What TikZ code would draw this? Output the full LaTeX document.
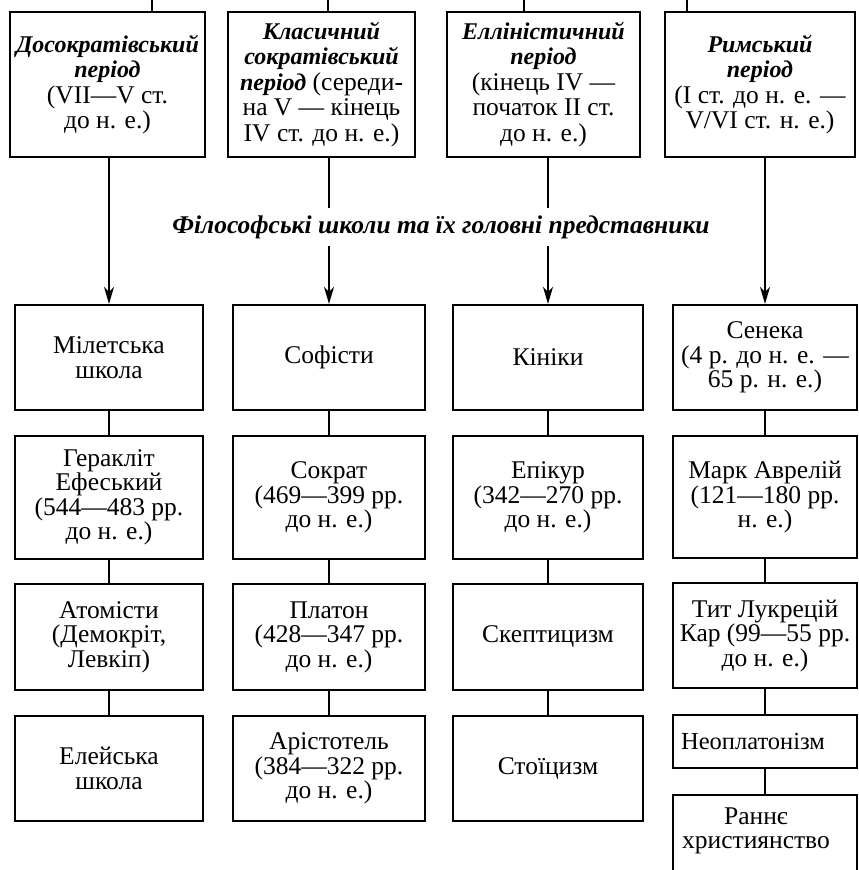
\documentclass[tikz,border=0pt]{standalone}
\usepackage{fontspec}
\setmainfont{Liberation Serif}
\usetikzlibrary{arrows.meta}
\newcommand\bi[1]{{\fontsize{24}{25.5}\selectfont\bfseries\itshape #1}}
\begin{document}
\begin{tikzpicture}[x=1pt,y=-1pt,
  box/.style={draw, line width=2.2pt, inner sep=0pt, align=center, font=\fontsize{25.5}{24.5}\selectfont},
  pbox/.style={draw, line width=2.2pt, inner sep=0pt, align=center, font=\fontsize{25.5}{25.5}\selectfont},
  txt/.style={inner sep=0pt, align=center, font=\fontsize{25.5}{24.5}\selectfont},
  conn/.style={line width=1.8pt},
  arr/.style={line width=1.8pt, -{Stealth[length=17pt,width=10pt,inset=5pt]}},
  lbl/.style={fill=white, inner xsep=3pt, inner ysep=7pt, font=\fontsize{25.5}{27}\selectfont\bfseries\itshape}]
\useasboundingbox (0,0) rectangle (859,870);
% period boxes
\node[pbox, minimum width=195, minimum height=145] (p1) at (107.5,84.5) {\bi{Досократівський}\\\bi{період}\\(VII—V ст.\\до н. е.)};
\node[pbox, minimum width=187, minimum height=145] (p2) at (321.5,84.5) {\bi{Класичний}\\\bi{сократівський}\\\bi{період} (середи-\\на V — кінець\\IV ст. до н. е.)};
\node[pbox, minimum width=193, minimum height=145] (p3) at (543.5,84.5) {\bi{Елліністичний}\\\bi{період}\\(кінець IV —\\початок II ст.\\до н. е.)};
\node[pbox, minimum width=190, minimum height=145] (p4) at (760,84.5) {\bi{Римський}\\\bi{період}\\(I ст. до н. е. —\\V/VI ст. н. е.)};
% lines from above
\coordinate (t1) at (152,0);
\coordinate (t2) at (328,0);
\coordinate (t3) at (524,0);
\coordinate (t4) at (687,0);
\draw[conn] (t1) -- (t1 |- p1.north);
\draw[conn] (t2) -- (t2 |- p2.north);
\draw[conn] (t3) -- (t3 |- p3.north);
\draw[conn] (t4) -- (t4 |- p4.north);
% column 1
\node[box, minimum width=188, minimum height=105] (a1) at (109,357.5) {Мілетська\\школа};
\node[box, minimum width=188, minimum height=123] (a2) at (109,497.5) {Геракліт\\Ефеський\\(544—483 рр.\\до н. е.)};
\node[box, minimum width=188, minimum height=106] (a3) at (109,637) {Атомісти\\(Демокріт,\\Левкіп)};
\node[box, minimum width=188, minimum height=105] (a4) at (109,768.5) {Елейська\\школа};
% column 2
\node[box, minimum width=192, minimum height=105] (b1) at (329,357.5) {Софісти};
\node[box, minimum width=192, minimum height=123] (b2) at (329,497.5) {Сократ\\(469—399 рр.\\до н. е.)};
\node[box, minimum width=192, minimum height=106] (b3) at (329,637) {Платон\\(428—347 рр.\\до н. е.)};
\node[box, minimum width=192, minimum height=105] (b4) at (329,768.5) {Арістотель\\(384—322 рр.\\до н. е.)};
% column 3
\node[box, minimum width=190, minimum height=105] (c1) at (548,357.5) {Кініки};
\node[box, minimum width=190, minimum height=123] (c2) at (548,497.5) {Епікур\\(342—270 рр.\\до н. е.)};
\node[box, minimum width=190, minimum height=106] (c3) at (548,637) {Скептицизм};
\node[box, minimum width=190, minimum height=105] (c4) at (548,768.5) {Стоїцизм};
% column 4
\node[box, minimum width=184, minimum height=105] (d1) at (765,357.5) {Сенека\\(4 р. до н. е. —\\65 р. н. е.)};
\node[box, minimum width=184, minimum height=122] (d2) at (765,497) {Марк Аврелій\\(121—180 рр.\\н. е.)};
\node[box, minimum width=184, minimum height=105] (d3) at (765,635.5) {Тит Лукрецій\\Кар (99—55 рр.\\до н. е.)};
\node[box, minimum width=184, minimum height=53] (d4) at (765,741.5) {};
\node[txt, font=\fontsize{24.5}{24.5}\selectfont] (d4t) at (753,741.5) {Неоплатонізм};
\node[inner sep=0pt, minimum width=184, minimum height=75] (d5) at (765,832.5) {};
\node[txt] (d5t) at (756,831) {Раннє\\християнство};
\draw[line width=2.2pt] (d5.south west) -- (d5.north west) -- (d5.north east) -- (d5.south east);
% connectors
\draw[conn] (a1) -- (a2); \draw[conn] (a2) -- (a3); \draw[conn] (a3) -- (a4);
\draw[conn] (b1) -- (b2); \draw[conn] (b2) -- (b3); \draw[conn] (b3) -- (b4);
\draw[conn] (c1) -- (c2); \draw[conn] (c2) -- (c3); \draw[conn] (c3) -- (c4);
\draw[conn] (d1) -- (d2); \draw[conn] (d2) -- (d3); \draw[conn] (d3) -- (d4); \draw[conn] (d4) -- (d5);
% arrows
\draw[arr] (a1.north |- p1.south) -- (a1.north);
\draw[arr] (b1.north |- p2.south) -- (b1.north);
\draw[arr] (c1.north |- p3.south) -- (c1.north);
\draw[arr] (d1.north |- p4.south) -- (d1.north);
% label
\node[lbl] (title) at (441,227) {Філософські школи та їх головні представники};
\end{tikzpicture}
\end{document}
